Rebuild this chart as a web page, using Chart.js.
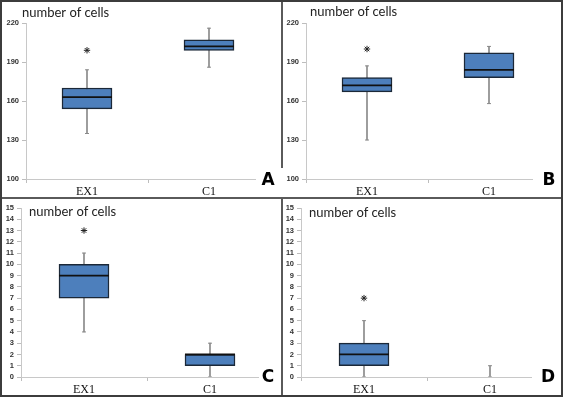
<!DOCTYPE html>
<html>
<head>
<meta charset="utf-8">
<script src="https://cdn.jsdelivr.net/npm/chart.js@4"></script>
<style>
  html, body { margin: 0; padding: 0; background: #fff; }
  #wrap { position: relative; width: 563px; height: 397px; overflow: hidden; }
  canvas { position: absolute; }
  .line { position: absolute; background: #5a5a5a; }
  #frame { position: absolute; left: 0; top: 0; width: 563px; height: 397px; box-sizing: border-box; border: 2px solid #3c3c3c; }
</style>
</head>
<body>
<div id="wrap">
  <canvas id="panelA" width="282" height="198" style="left:0;top:0"></canvas>
  <canvas id="panelB" width="281" height="198" style="left:282px;top:0"></canvas>
  <canvas id="panelC" width="282" height="199" style="left:0;top:198px"></canvas>
  <canvas id="panelD" width="281" height="199" style="left:282px;top:198px"></canvas>
  <div class="line" style="left:0;top:197px;width:563px;height:2px"></div>
  <div class="line" style="left:281px;top:0;width:2px;height:168px"></div>
  <div class="line" style="left:281px;top:198px;width:2px;height:199px"></div>
  <div id="frame"></div>
</div>
<script>
const categories = ['EX1', 'C1']

// box plot values: min, q1, median, q3, max, asterisk
const aMin = [135, 186]
const aQ1 = [154, 199]
const aMed = [163, 202]
const aQ3 = [170, 207]
const aMax = [184, 216]
const aStar = [199, null]

const bMin = [130, 158]
const bQ1 = [167, 178]
const bMed = [172, 184]
const bQ3 = [178, 197]
const bMax = [187, 202]
const bStar = [200, null]

const cMin = [4, 0]
const cQ1 = [7, 1]
const cMed = [9, 2]
const cQ3 = [10, 2]
const cMax = [11, 3]
const cStar = [13, null]

const dMin = [0, 0]
const dQ1 = [1, null]
const dMed = [2, null]
const dQ3 = [3, null]
const dMax = [5, 1]
const dStar = [7, null]

const ticksTop = {min: 100, max: 220, step: 30}
const ticksBottom = {min: 0, max: 15, step: 1}

const panelText = {
    id: 'panelText',
    afterDraw(chart, args, opts) {
        const ctx = chart.ctx
        ctx.save()
        ctx.fillStyle = '#222'
        ctx.font = '13px Lato'
        ctx.textBaseline = 'middle'
        ctx.textAlign = 'left'
        ctx.fillText(opts.title, opts.tx, opts.ty)
        ctx.fillStyle = '#fff'
        ctx.fillRect(opts.box[0], opts.box[1], opts.box[2], opts.box[3])
        ctx.fillStyle = '#000'
        ctx.font = 'bold 17px "DejaVu Sans"'
        ctx.textAlign = 'center'
        ctx.fillText(opts.letter, opts.lx, opts.ly)
        ctx.restore()
    }
}

function pairs(lo, hi) {
    return lo.map((v, i) => (v == null || hi[i] == null) ? null : [v, hi[i]])
}

function boxPanel(id, vals, range, layout) {
    const [mn, q1, med, q3, mx, star] = vals
    return new Chart(document.getElementById(id), {
        type: 'bar',
        plugins: [panelText],
        data: {
            labels: categories,
            datasets: [
                {
                    type: 'line', label: 'star', data: star, showLine: false,
                    pointStyle: 'star', pointRadius: 3.2, borderColor: '#222', borderWidth: 1,
                    backgroundColor: '#222'
                },
                {
                    type: 'line', label: 'median', data: med, showLine: false,
                    pointStyle: 'line', pointRadius: 25, borderColor: '#111', borderWidth: 1.8
                },
                {
                    label: 'box', data: pairs(q1, q3), grouped: false, barThickness: 50,
                    backgroundColor: '#4d7fbc', borderColor: '#1b2838', borderWidth: 1.5,
                    borderSkipped: false
                },
                {
                    type: 'line', label: 'capLow', data: mn, showLine: false,
                    pointStyle: 'line', pointRadius: 2, borderColor: '#8a8a8a', borderWidth: 1
                },
                {
                    type: 'line', label: 'capHigh', data: mx, showLine: false,
                    pointStyle: 'line', pointRadius: 2, borderColor: '#8a8a8a', borderWidth: 1
                },
                {
                    label: 'whisker', data: pairs(mn, mx), grouped: false, barThickness: 1,
                    backgroundColor: '#8a8a8a', borderWidth: 0
                }
            ]
        },
        options: {
            responsive: false,
            animation: false,
            events: [],
            layout: {autoPadding: false, padding: {left: 0, right: layout.right, top: layout.top, bottom: 0}},
            plugins: {
                legend: {display: false},
                tooltip: {enabled: false},
                panelText: layout.text
            },
            scales: {
                x: {
                    afterFit: s => { s.height = layout.xh },
                    grid: {offset: true, drawOnChartArea: false, tickLength: 4, color: '#bdbdbd'},
                    border: {color: '#c8c8c8'},
                    ticks: {font: {family: 'Liberation Serif', size: 12}, color: '#111', padding: 2}
                },
                y: {
                    min: range.min,
                    max: range.max,
                    afterFit: s => { s.width = layout.yw },
                    grid: {drawOnChartArea: false, tickLength: 4, color: '#bdbdbd'},
                    border: {color: '#c8c8c8'},
                    ticks: {
                        stepSize: range.step, autoSkip: false, padding: 3,
                        font: {family: 'Liberation Sans', size: 7.5, weight: 'bold'}, color: '#333'
                    }
                }
            }
        }
    })
}

boxPanel('panelA', [aMin, aQ1, aMed, aQ3, aMax, aStar], ticksTop, {
    right: 12, top: 23, xh: 19, yw: 26,
    text: {title: 'number of cells', tx: 22, ty: 13, letter: 'A', lx: 268, ly: 181, box: [256, 168, 26, 30]}
})
boxPanel('panelB', [bMin, bQ1, bMed, bQ3, bMax, bStar], ticksTop, {
    right: 13, top: 23, xh: 19, yw: 24,
    text: {title: 'number of cells', tx: 28, ty: 12, letter: 'B', lx: 267, ly: 181, box: [251, 168, 30, 30]}
})
boxPanel('panelC', [cMin, cQ1, cMed, cQ3, cMax, cStar], ticksBottom, {
    right: 9, top: 10, xh: 20, yw: 21,
    text: {title: 'number of cells', tx: 29, ty: 14, letter: 'C', lx: 268, ly: 180, box: [259, 172, 23, 27]}
})
boxPanel('panelD', [dMin, dQ1, dMed, dQ3, dMax, dStar], ticksBottom, {
    right: 10, top: 10, xh: 20, yw: 19,
    text: {title: 'number of cells', tx: 27, ty: 15, letter: 'D', lx: 266, ly: 180, box: [250, 172, 31, 27]}
})
</script>
</body>
</html>
